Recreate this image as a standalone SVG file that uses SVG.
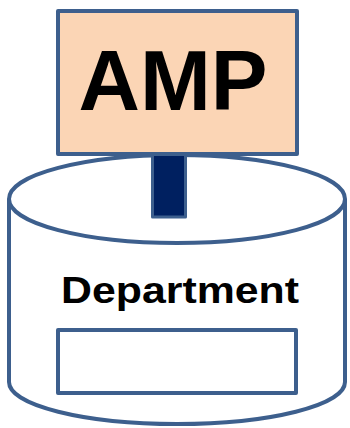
<svg xmlns="http://www.w3.org/2000/svg" width="350" height="428" viewBox="0 0 350 428">
<style>
.ln{stroke:#3d5f8d;stroke-width:4;stroke-linejoin:round}
.t{font-family:"Liberation Sans",Arial,sans-serif;font-weight:bold;fill:#000}
</style>
<g id="cylinder">
<path class="ln" fill="#fff" d="M9,199 L9,382 A168,42 0 0 0 345,382 L345,199"/>
<ellipse class="ln" fill="#fff" cx="177" cy="199" rx="168" ry="44"/>
<text class="t" x="180" y="303" font-size="37" text-anchor="middle" textLength="238" lengthAdjust="spacingAndGlyphs">Department</text>
<rect class="ln" fill="#fff" x="58" y="330" width="238" height="63"/>
</g>
<g id="connectors">
<rect x="152.5" y="150" width="33" height="67" fill="#002060" stroke="#3d5f8d" stroke-width="3" stroke-linejoin="round"/>
</g>
<g id="amp">
<rect class="ln" fill="#fbd5b5" x="58" y="11" width="239" height="143"/>
<text class="t" x="173" y="110" font-size="86" text-anchor="middle" textLength="189" lengthAdjust="spacingAndGlyphs">AMP</text>
</g>
</svg>
